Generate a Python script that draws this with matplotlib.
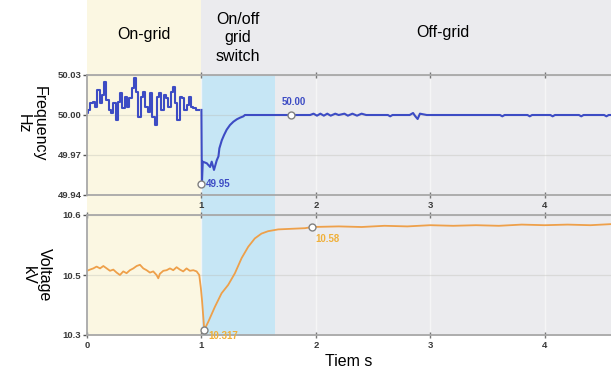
import numpy as np
import matplotlib.pyplot as plt

plt.rcParams['font.family'] = ['Liberation Sans', 'DejaVu Sans']

# Time bands (s)
X_MAX = 4.58
SWITCH_START = 1.0
SWITCH_END = 1.64

# Frequency, on-grid part (sampled every 0.02 s)
freq_on = [50.0013, 50.0038, 50.0088, 50.0100, 50.0063, 50.0188, 50.0088, 50.0150,
           50.0250, 50.0113, 50.0038, 50.0013, 50.0088, 49.9963, 50.0100, 50.0163,
           50.0050, 50.0138, 50.0063, 50.0125, 50.0200, 50.0275, 50.0175, 49.9988,
           50.0138, 50.0175, 50.0063, 50.0025, 50.0163, 49.9988, 49.9925, 50.0138,
           50.0163, 50.0038, 50.0150, 50.0125, 50.0063, 50.0175, 50.0213, 50.0088,
           49.9963, 50.0138, 50.0125, 50.0038, 50.0075, 50.0138, 50.0063, 50.0050,
           50.0038, 50.0038]
# Frequency during switch and off-grid
t_freq_off = [1.0, 1.004, 1.012, 1.047, 1.076, 1.09, 1.11, 1.134, 1.149, 1.157,
              1.178, 1.198, 1.221, 1.25, 1.28, 1.31, 1.338, 1.367, 1.38,
              1.95, 1.98, 2.01, 2.04, 2.07, 2.10, 2.13, 2.17, 2.20, 2.25, 2.28,
              2.32, 2.36, 2.40, 2.44, 2.63, 2.65, 2.67, 2.82, 2.85, 2.87, 2.89,
              2.91, 2.94, 2.97, 3.61, 3.63, 3.65, 3.85, 3.87, 3.89, 4.05, 4.07,
              4.09, 4.30, 4.32, 4.34, 4.52, 4.54, 4.56, 4.60]
freq_off = [50.0038, 49.948, 49.965, 49.9638, 49.961, 49.965, 49.9588, 49.966,
            49.969, 49.975, 49.981, 49.985, 49.989, 49.9925, 49.995, 49.9968,
            49.998, 49.999, 50.0,
            50.0, 50.001, 49.9995, 50.001, 49.9995, 50.001, 49.9995, 50.001, 50.0,
            50.001, 49.9995, 50.001, 49.9995, 50.001, 50.0, 50.0, 49.999, 50.0,
            50.0, 50.0015, 49.999, 49.997, 50.001, 50.0005, 50.0, 50.0, 49.999,
            50.0, 50.0, 49.999, 50.0, 50.0, 49.999, 50.0, 50.0, 49.999, 50.0,
            50.0, 49.999, 50.0, 50.0]

# Voltage (kV), on-grid part
t_volt_on = [0.0, 0.026, 0.055, 0.084, 0.114, 0.143, 0.172, 0.201, 0.23, 0.259,
             0.288, 0.317, 0.346, 0.375, 0.405, 0.434, 0.463, 0.492, 0.521, 0.55,
             0.579, 0.608, 0.623, 0.637, 0.667, 0.696, 0.725, 0.754, 0.783, 0.812,
             0.841, 0.87, 0.899, 0.929, 0.958, 0.981]
volt_on = [10.507, 10.509, 10.511, 10.514, 10.511, 10.515, 10.511, 10.507, 10.509,
           10.504, 10.500, 10.506, 10.503, 10.508, 10.511, 10.515, 10.517, 10.511,
           10.508, 10.504, 10.506, 10.500, 10.489, 10.502, 10.507, 10.508, 10.511,
           10.508, 10.513, 10.509, 10.506, 10.511, 10.507, 10.508, 10.506, 10.500]
# Voltage during switch and off-grid
t_volt_off = [0.995, 1.005, 1.025, 1.06, 1.118, 1.176, 1.234, 1.293, 1.351, 1.409,
              1.467, 1.525, 1.583, 1.671, 1.787, 1.904, 1.97, 2.2, 2.4, 2.6, 2.8,
              3.0, 3.2, 3.4, 3.6, 3.8, 4.0, 4.2, 4.4, 4.6]
volt_off = [10.457, 10.417, 10.317, 10.344, 10.394, 10.439, 10.467, 10.503, 10.528,
            10.547, 10.561, 10.569, 10.573, 10.576, 10.577, 10.578, 10.58, 10.581,
            10.58, 10.582, 10.581, 10.583, 10.582, 10.583, 10.582, 10.584, 10.583,
            10.584, 10.583, 10.585]

freq_ticks = [49.94, 49.97, 50.00, 50.03]
freq_labels = ['49.94', '49.97', '50.00', '50.03']
volt_ticks = [10.3, 10.5, 10.6]
volt_labels = ['10.3', '10.5', '10.6']

# Marked points
freq_min = (1.0, 49.948, '49.95')
freq_settle = (1.78, 50.0, '50.00')
volt_min = (1.025, 10.317, '10.317')
volt_settle = (1.97, 10.58, '10.58')

BLUE = '#3d4cc4'
ORANGE = '#eea04a'
ORANGE_TXT = '#f0b03a'
SPINE = '#a8a8a8'
TICK_TXT = '#3a3a3a'

fig = plt.figure(figsize=(6.11, 3.72), dpi=100)
W, H = 611, 372
left = 87 / W
width = (W - 87) / W

# Background bands
bg = fig.add_axes([left, 1 - 336 / H, width, 336 / H], zorder=0)
bg.set_xlim(0, X_MAX)
bg.set_ylim(0, 1)
bg.axis('off')
band_top = (336 - 75) / 336
bg.axvspan(0, SWITCH_START, color='#fbf7e2', lw=0)
bg.axvspan(SWITCH_START, SWITCH_END, ymin=0, ymax=band_top, color='#c6e6f5', lw=0)
bg.axvspan(SWITCH_START, SWITCH_END, ymin=band_top, ymax=1, color='#ebebee', lw=0)
bg.axvspan(SWITCH_END, X_MAX, color='#ebebee', lw=0)
head_y = 1 - 35 / 336
bg.text(SWITCH_START / 2, head_y, 'On-grid', ha='center', va='center', fontsize=11.5)
bg.text((SWITCH_START + SWITCH_END) / 2, head_y - 0.008, 'On/off\ngrid\nswitch',
        ha='center', va='center', fontsize=11.5, linespacing=1.3)
bg.text((SWITCH_END + X_MAX) / 2, 1 - 32 / 336, 'Off-grid', ha='center', va='center',
        fontsize=11.5)


def style_axes(ax):
    ax.set_facecolor('none')
    ax.set_xlim(0, X_MAX)
    ax.spines['right'].set_visible(False)
    for s in ['left', 'top', 'bottom']:
        ax.spines[s].set_color(SPINE)
        ax.spines[s].set_linewidth(1.3)
    ax.tick_params(axis='y', direction='out', length=3, width=1, color='#555555',
                   labelsize=6.8, labelcolor=TICK_TXT, pad=1)
    ax.tick_params(axis='x', direction='inout', length=4, width=1, color='#777777',
                   labelsize=6.8, labelcolor=TICK_TXT, pad=2, top=True)
    for lab in ax.get_xticklabels() + ax.get_yticklabels():
        lab.set_fontweight('bold')
    ax.grid(axis='y', color='#b8b8b0', alpha=0.35, lw=0.9)
    ax.grid(axis='x', color='#f7f7f7', alpha=0.9, lw=1.0)
    ax.set_axisbelow(True)


# Frequency panel
ax_f = fig.add_axes([left, 1 - 195 / H, width, 120 / H], zorder=2)
t_freq_on = np.arange(len(freq_on)) * 0.02
ax_f.plot(t_freq_on, freq_on, color=BLUE, lw=1.5, drawstyle='steps-mid')
ax_f.plot(t_freq_off, freq_off, color=BLUE, lw=1.5)
ax_f.set_ylim(49.94, 50.03)
ax_f.set_yticks(freq_ticks, freq_labels)
ax_f.set_xticks([1, 2, 3, 4], ['1', '2', '3', '4'])
style_axes(ax_f)
for (tx, vy, lab), off, ha, va in [(freq_min, (3, 0), 'left', 'center'),
                                   (freq_settle, (2, 6), 'center', 'bottom')]:
    ax_f.plot(tx, vy, 'o', ms=5, mfc='white', mec='#808080', mew=1, zorder=5,
              clip_on=False)
    ax_f.annotate(lab, (tx, vy), xytext=off, textcoords='offset points', ha=ha, va=va,
                  fontsize=7, fontweight='bold', color=BLUE)


# Voltage panel: axis is stretched above 10.5 kV as in the source
def v_fwd(v):
    v = np.asarray(v, dtype=float)
    return np.where(v <= 10.5, (v - 10.3) / 0.4, 0.5 + (v - 10.5) / 0.2)


def v_inv(u):
    u = np.asarray(u, dtype=float)
    return np.where(u <= 0.5, 10.3 + 0.4 * u, 10.5 + 0.2 * (u - 0.5))


ax_v = fig.add_axes([left, 1 - 335 / H, width, 120 / H], zorder=2)
ax_v.set_yscale('function', functions=(v_fwd, v_inv))
ax_v.plot(t_volt_on + t_volt_off, volt_on + volt_off, color=ORANGE, lw=1.3)
ax_v.set_ylim(10.3, 10.6)
ax_v.set_yticks(volt_ticks, volt_labels)
ax_v.minorticks_off()
ax_v.set_xticks([0, 1, 2, 3, 4], ['0', '1', '2', '3', '4'])
style_axes(ax_v)
for (tx, vy, lab), off in [(volt_min, (3, -1)), (volt_settle, (2, -5))]:
    ax_v.plot(tx, vy, 'o', ms=5, mfc='white', mec='#808080', mew=1, zorder=5,
              clip_on=False)
    ax_v.annotate(lab, (tx, vy), xytext=off, textcoords='offset points', ha='left',
                  va='top', fontsize=7, fontweight='bold', color=ORANGE_TXT)

ax_v.set_xlabel('Tiem s', fontsize=11.5, labelpad=3)

fig.text(31 / W, 1 - 124 / H, 'Frequency\nHz', rotation=-90, ha='center', va='center',
         fontsize=11.5, linespacing=1.1)
fig.text(36 / W, 1 - 275 / H, 'Voltage\nkV', rotation=-90, ha='center', va='center',
         fontsize=11.5, linespacing=1.1)

fig.savefig('out.png', dpi=100, facecolor='white')
